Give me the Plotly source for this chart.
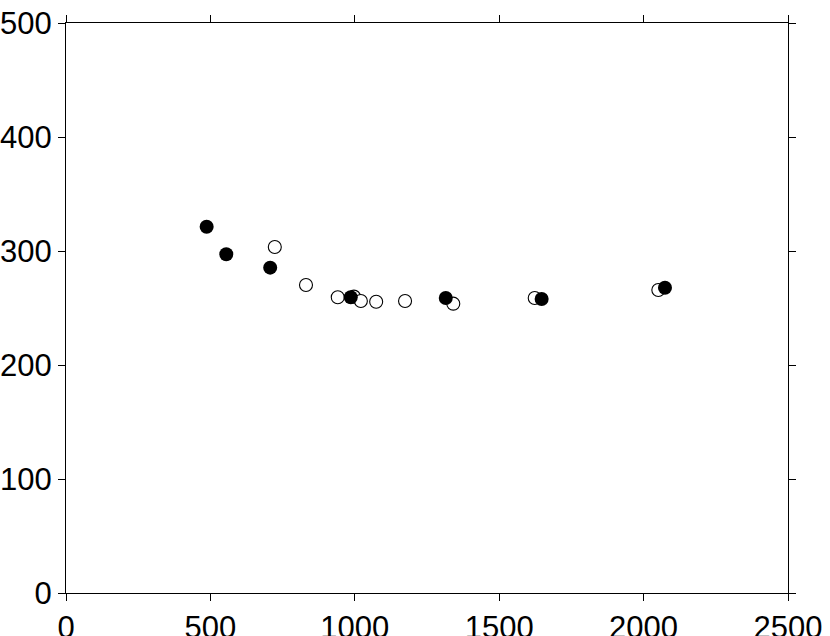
import plotly.graph_objects as go

open_x = [723, 831, 941, 997, 1021, 1074, 1174, 1341, 1623, 2051]
open_y = [303.5, 270.2, 259.4, 260.0, 256.1, 255.5, 256.1, 253.8, 258.8, 265.8]
filled_x = [487, 555, 707, 986, 1315, 1647, 2074]
filled_y = [321.3, 297.1, 285.4, 259.4, 258.8, 257.9, 267.8]

fig = go.Figure()
fig.add_trace(go.Scatter(x=open_x, y=open_y, mode="markers",
                         marker=dict(symbol="circle", size=13, color="white",
                                     line=dict(color="black", width=1.1)),
                         showlegend=False))
fig.add_trace(go.Scatter(x=filled_x, y=filled_y, mode="markers",
                         marker=dict(symbol="circle", size=14, color="black",
                                     line=dict(color="black", width=0)),
                         showlegend=False))

axis_common = dict(showline=True, linecolor="black", linewidth=1, mirror="ticks",
                   ticks="outside", ticklen=7, tickwidth=1, tickcolor="black",
                   showgrid=False, zeroline=False, automargin=False,
                   tickfont=dict(family="Liberation Sans, Arial, sans-serif", size=31, color="black"))
fig.update_xaxes(range=[0, 2500], dtick=500, tick0=0, **axis_common)
fig.update_yaxes(range=[0, 500], dtick=100, tick0=0, **axis_common)

fig.update_layout(width=830, height=636, plot_bgcolor="white", paper_bgcolor="white",
                  margin=dict(l=66, r=42, t=23, b=43), showlegend=False)
fig.write_html("out.html", config={"displayModeBar": False},
               post_script="document.body.style.margin='0px';document.body.style.overflow='hidden';")
